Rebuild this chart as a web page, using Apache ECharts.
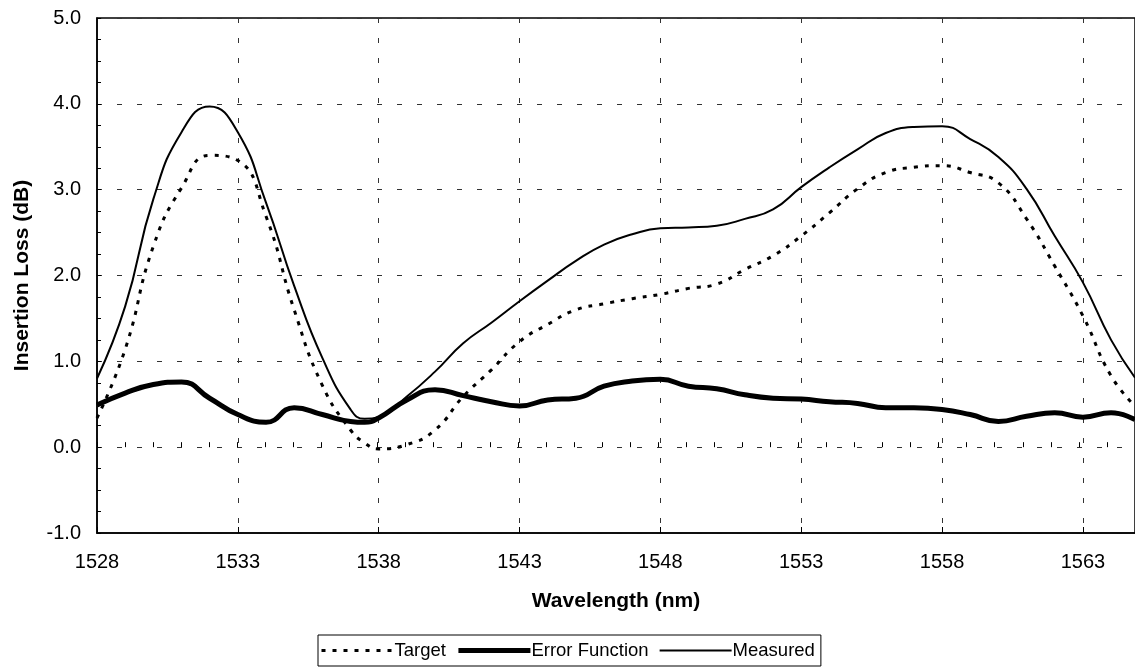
<!DOCTYPE html>
<html>
<head>
<meta charset="utf-8">
<script src="https://cdn.jsdelivr.net/npm/echarts@6/dist/echarts.min.js"></script>
<style>
html,body{margin:0;padding:0;background:#fff;}
#chart{width:1135px;height:669px;}
</style>
</head>
<body>
<div id="chart"></div>
<script>
var wavelength = [1528,1529,1530,1531,1532,1533,1534,1535,1536,1537,1537.5,1538,1539,1540,1541,1542,1543,1544,1545,1546,1547,1548,1549,1550,1551,1552,1553,1554,1555,1556,1557,1558,1559,1560,1561,1562,1563,1564,1564.85];
var target   = [0.34,1.14,2.34,3.02,3.40,3.34,2.69,1.60,0.72,0.20,0.05,-0.02,0.03,0.20,0.59,0.90,1.23,1.43,1.60,1.67,1.73,1.78,1.85,1.90,2.07,2.23,2.46,2.73,3.01,3.20,3.26,3.28,3.20,3.08,2.66,2.11,1.53,0.83,0.48];
var errorFn  = [0.49,0.63,0.73,0.76,0.57,0.38,0.29,0.46,0.38,0.30,0.29,0.34,0.55,0.67,0.60,0.53,0.48,0.55,0.57,0.71,0.77,0.79,0.71,0.68,0.61,0.57,0.56,0.53,0.51,0.46,0.46,0.44,0.38,0.30,0.36,0.40,0.35,0.40,0.32];
var measured = [0.80,1.64,2.89,3.67,3.97,3.67,2.85,1.88,1.04,0.44,0.33,0.35,0.59,0.88,1.21,1.45,1.70,1.94,2.17,2.36,2.48,2.55,2.56,2.58,2.66,2.77,3.03,3.26,3.47,3.66,3.73,3.74,3.59,3.38,3.01,2.46,1.92,1.25,0.81];
var seriesNames = ['Target','Error Function','Measured'];
var xTickStart = 1528, xTickStep = 5, xMax = 1564.85;
var yMin = -1, yMax = 5, yStep = 1;

function pairs(ys){ return wavelength.map(function(x,i){ return [x, ys[i]]; }); }

var FONT = 'Liberation Sans, Arial, Helvetica, sans-serif';
var chart = echarts.init(document.getElementById('chart'), null, {renderer:'canvas'});
chart.setOption({
  animation:false,
  backgroundColor:'#fff',
  grid:{left:97, top:18, width:1040, height:515, show:true, borderColor:'#000', borderWidth:1.5, backgroundColor:'transparent'},
  legend:{
    data:seriesNames, left:318, top:635, orient:'horizontal',
    itemWidth:72, itemHeight:14, itemGap:10,
    itemStyle:{color:'rgba(0,0,0,0)', borderColor:'rgba(0,0,0,0)', borderWidth:0, opacity:0},
    lineStyle:{width:'inherit', type:'inherit', color:'#000'},
    borderColor:'#000', borderWidth:1, borderRadius:0, padding:[6,6,6,2],
    textStyle:{fontFamily:FONT, fontSize:18.5, color:'#000', padding:[0,0,0,-4]}
  },
  xAxis:[{
    type:'value', min:xTickStart, max:xMax, interval:xTickStep,
    name:'Wavelength (nm)', nameLocation:'middle', nameGap:58,
    nameTextStyle:{fontFamily:FONT, fontSize:21, fontWeight:'bold', color:'#000'},
    axisLine:{show:true, onZero:false, lineStyle:{color:'#000', width:1.5}},
    axisTick:{show:true, inside:true, length:6, lineStyle:{color:'#000'}},
    axisLabel:{fontFamily:FONT, fontSize:20, color:'#000', margin:19, showMaxLabel:false, formatter:function(v){return String(v);}},
    splitLine:{show:true, lineStyle:{color:'#333', type:[5,15], width:1}}
  },{
    type:'value', min:xTickStart, max:xMax+0.15, interval:1, position:'bottom',
    axisLine:{show:false}, axisLabel:{show:false}, splitLine:{show:false},
    axisTick:{show:true, inside:true, length:5, lineStyle:{color:'#000'}}
  }],
  yAxis:[{
    type:'value', min:yMin, max:yMax, interval:yStep,
    name:'Insertion Loss (dB)', nameLocation:'middle', nameGap:64,
    nameTextStyle:{fontFamily:FONT, fontSize:21, fontWeight:'bold', color:'#000'},
    axisLine:{show:true, onZero:false, lineStyle:{color:'#000', width:1.5}},
    axisTick:{show:true, inside:true, length:4, lineStyle:{color:'#000'}},
    axisLabel:{fontFamily:FONT, fontSize:20, color:'#000', margin:16, formatter:function(v){return v.toFixed(1);}},
    splitLine:{show:true, lineStyle:{color:'#333', type:[5,15], width:1}}
  },{
    type:'value', min:yMin, max:yMax, interval:0.25, position:'left',
    axisLine:{show:false}, axisLabel:{show:false}, splitLine:{show:false},
    axisTick:{show:true, inside:true, length:4, lineStyle:{color:'#000'}}
  }],
  series:[
    {name:seriesNames[0], type:'line', data:pairs(target), smooth:0.5, showSymbol:false, symbol:'none',
     lineStyle:{color:'#000', width:3, type:[4,7], cap:'butt'}, itemStyle:{color:'#000'}, z:3},
    {name:seriesNames[1], type:'line', data:pairs(errorFn), smooth:0.5, showSymbol:false, symbol:'none',
     lineStyle:{color:'#000', width:5}, itemStyle:{color:'#000'}, z:4},
    {name:seriesNames[2], type:'line', data:pairs(measured), smooth:0.5, showSymbol:false, symbol:'none',
     lineStyle:{color:'#000', width:2}, itemStyle:{color:'#000'}, z:5}
  ]
});
</script>
</body>
</html>
